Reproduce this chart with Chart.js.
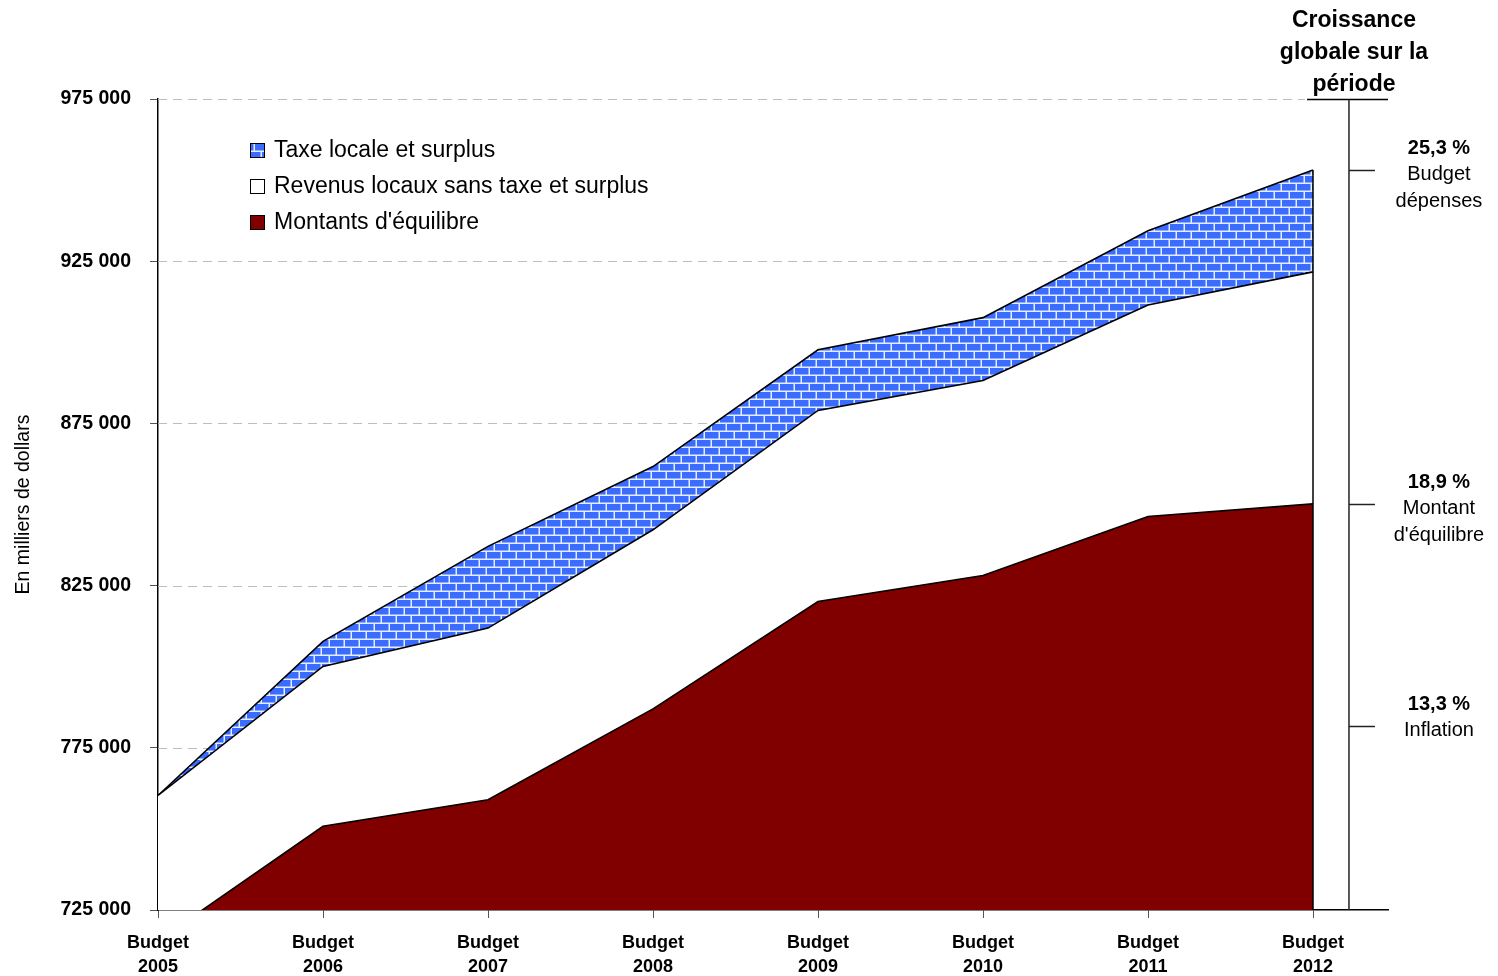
<!DOCTYPE html>
<html><head><meta charset="utf-8">
<script src="https://cdn.jsdelivr.net/npm/chart.js@4/dist/chart.umd.min.js"></script>
<style>html,body{margin:0;padding:0;background:#fff;} canvas{display:block;}</style>
</head><body>
<canvas id="c" width="1498" height="976"></canvas>
<script>
// ---- data ----
const categories = ['2005','2006','2007','2008','2009','2010','2011','2012'];
const montants = [715500, 750800, 759000, 787000, 820100, 828100, 846300, 850200];
const revenus  = [44800, 49300, 52900, 55200, 58900, 60100, 65200, 71500];
const taxe     = [0, 7700, 25200, 19500, 18700, 19400, 22900, 31400];
const yTicks = [725000, 775000, 825000, 875000, 925000, 975000];
const growthTickValues = [953100, 850200, 781800];
const growthPct = ['25,3 %', '18,9 %', '13,3 %'];
const growthText = [['Budget','dépenses'], ['Montant',"d'équilibre"], ['Inflation']];
const seriesNames = ['Taxe locale et surplus','Revenus locaux sans taxe et surplus',"Montants d'équilibre"];
const titleLines = ['Croissance','globale sur la','période'];
const yTitle = 'En milliers de dollars';

// ---- style ----
const FONT = 'Arial, "Liberation Sans", sans-serif';
Chart.defaults.font.family = FONT;
Chart.defaults.color = '#000';
const RED = '#800000';
const X_MAX = 1230/165;
const RIGHT_AXIS_X = 7.218;

const middle = montants.map((v,i)=>v+revenus[i]);
const total = middle.map((v,i)=>v+taxe[i]);
const pts = arr => arr.map((y,i)=>({x:i,y}));

function brickPattern(ctx){
  const c = document.createElement('canvas');
  c.width = 30; c.height = 16;
  const g = c.getContext('2d');
  g.fillStyle = '#e6edff'; g.fillRect(0,0,30,16);
  g.fillStyle = '#3a6cff';
  [0,15].forEach(bx=>g.fillRect(bx,0,13.5,6.5));
  [-8,7,22].forEach(bx=>g.fillRect(bx,8,13.5,6.5));
  return ctx.createPattern(c,'repeat');
}
const ctx = document.getElementById('c').getContext('2d');
const PATTERN = brickPattern(ctx);

const gridPlugin = {
  id:'grid',
  beforeDatasetsDraw(chart){
    const {ctx, scales:{x,y}, chartArea} = chart;
    ctx.save();
    ctx.strokeStyle = '#bdbdbd'; ctx.lineWidth = 1.2; ctx.setLineDash([9,6]);
    yTicks.forEach(v=>{
      if (v === yTicks[0]) return;
      const py = Math.round(y.getPixelForValue(v)) + 0.5;
      const x1 = (v === yTicks[yTicks.length-1]) ? x.getPixelForValue(7) - 8 : x.getPixelForValue(7);
      ctx.beginPath(); ctx.moveTo(chartArea.left, py); ctx.lineTo(x1, py); ctx.stroke();
    });
    ctx.restore();
  }
};

const overlayPlugin = {
  id:'overlay',
  afterDraw(chart){
    const {ctx, scales:{x,y}, chartArea} = chart;
    ctx.save();
    // right edge of areas
    const xe = x.getPixelForValue(categories.length-1);
    ctx.strokeStyle = '#000'; ctx.lineWidth = 1.5;
    ctx.beginPath(); ctx.moveTo(xe, y.getPixelForValue(total[total.length-1])); ctx.lineTo(xe, chartArea.bottom); ctx.stroke();
    // top line under title
    const yt = Math.round(y.getPixelForValue(yTicks[yTicks.length-1])) + 0.5;
    ctx.beginPath(); ctx.moveTo(xe - 6, yt); ctx.lineTo(chartArea.right, yt); ctx.stroke();
    // right growth axis
    const xr = x.getPixelForValue(RIGHT_AXIS_X);
    ctx.strokeStyle = '#222';
    ctx.beginPath(); ctx.moveTo(xr, yt); ctx.lineTo(xr, chartArea.bottom); ctx.stroke();
    ctx.textAlign = 'center'; ctx.textBaseline = 'middle'; ctx.fillStyle = '#000';
    growthTickValues.forEach((v,i)=>{
      const py = Math.round(y.getPixelForValue(v)) + 0.5;
      ctx.beginPath(); ctx.moveTo(xr, py); ctx.lineTo(xr + 26, py); ctx.stroke();
      const cx = xr + 90;
      ctx.font = 'bold 20px ' + FONT;
      ctx.fillText(growthPct[i], cx, py - 22);
      ctx.font = '20px ' + FONT;
      growthText[i].forEach((t,j)=>ctx.fillText(t, cx, py + 4 + j*27));
    });
    // title
    ctx.font = 'bold 23px ' + FONT;
    titleLines.forEach((t,i)=>ctx.fillText(t, xr + 5, 21 + i*32));
    // legend
    const fills = [PATTERN, '#ffffff', RED];
    ctx.textAlign = 'left';
    ctx.font = '23px ' + FONT;
    seriesNames.forEach((t,i)=>{
      const ly = 150 + i*36;
      ctx.fillStyle = fills[i];
      ctx.fillRect(250, ly-7, 15, 15);
      ctx.strokeStyle = '#000'; ctx.lineWidth = 1;
      ctx.strokeRect(250.5, ly-6.5, 14, 14);
      ctx.fillStyle = '#000';
      ctx.fillText(t, 274, ly + 1);
    });
    ctx.restore();
  }
};

new Chart(ctx, {
  type:'line',
  data:{
    datasets:[
      {label:seriesNames[0], data:pts(total), fill:'start', backgroundColor:PATTERN, order:3},
      {label:seriesNames[1], data:pts(middle), fill:'start', backgroundColor:'#ffffff', order:2},
      {label:seriesNames[2], data:pts(montants), fill:'start', backgroundColor:RED, order:1}
    ]
  },
  options:{
    responsive:false, animation:false, devicePixelRatio:1,
    layout:{padding:{top:99, right:110, bottom:0, left:0}},
    elements:{line:{tension:0, borderColor:'#000', borderWidth:1.6}, point:{radius:0}},
    plugins:{legend:{display:false}, tooltip:{enabled:false}},
    scales:{
      x:{
        type:'linear', min:0, max:X_MAX,
        afterBuildTicks(s){ s.ticks = categories.map((c,i)=>({value:i})); },
        afterFit(s){ s.height = 66; },
        grid:{drawOnChartArea:false, tickLength:8, color:'#555'},
        border:{color:'#000', width:1.5},
        ticks:{autoSkip:false, maxRotation:0, padding:13,
          font:{size:18, weight:'bold', lineHeight:1.33},
          callback:(v)=>['Budget', categories[v]]}
      },
      y:{
        type:'linear', min:yTicks[0], max:yTicks[yTicks.length-1],
        afterBuildTicks(s){ s.ticks = yTicks.map(v=>({value:v})); },
        afterFit(s){ s.width = 158; },
        grid:{drawOnChartArea:false, tickLength:8, color:'#555'},
        border:{color:'#000', width:1.5},
        ticks:{padding:19, font:{size:19.5, weight:'bold'},
          callback:(v)=>Math.round(v/1000) + ' 000'},
        title:{display:true, text:yTitle, font:{size:19.5}, padding:{top:12, bottom:0}}
      }
    }
  },
  plugins:[gridPlugin, overlayPlugin]
});
</script>
</body></html>
